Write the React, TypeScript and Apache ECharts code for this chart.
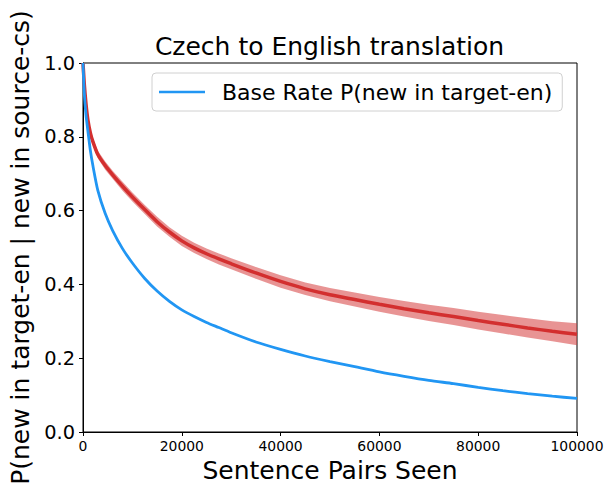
import React, { useEffect, useRef } from "react";
import * as echarts from "echarts";

const xs = [0, 250, 600, 1000, 1500, 2000, 3000, 4500, 6000, 8000, 10000, 12500, 15000, 17500, 20000, 22500, 25000, 27500, 30000, 35000, 40000, 45000, 50000, 55000, 60000, 65000, 70000, 75000, 80000, 85000, 90000, 95000, 100000];
const redValues = [1.0, 0.945, 0.89, 0.845, 0.81, 0.787, 0.752, 0.722, 0.697, 0.666, 0.637, 0.603, 0.57, 0.542, 0.518, 0.499, 0.483, 0.469, 0.456, 0.431, 0.408, 0.388, 0.372, 0.359, 0.346, 0.334, 0.323, 0.313, 0.302, 0.292, 0.282, 0.273, 0.265];
const redSpread = [0, 0.006, 0.008, 0.009, 0.009, 0.01, 0.01, 0.011, 0.011, 0.012, 0.012, 0.012, 0.013, 0.013, 0.014, 0.014, 0.014, 0.015, 0.015, 0.016, 0.017, 0.017, 0.018, 0.019, 0.02, 0.021, 0.022, 0.023, 0.024, 0.025, 0.026, 0.027, 0.03];
const blueValues = [1.0, 0.92, 0.86, 0.815, 0.762, 0.722, 0.655, 0.592, 0.546, 0.497, 0.458, 0.416, 0.382, 0.354, 0.331, 0.313, 0.297, 0.283, 0.269, 0.244, 0.224, 0.206, 0.191, 0.177, 0.163, 0.151, 0.14, 0.131, 0.121, 0.112, 0.104, 0.097, 0.091];
const xTicks = [0, 20000, 40000, 60000, 80000, 100000];
const yTicks = [0, 0.2, 0.4, 0.6, 0.8, 1.0];

const titleText = "Czech to English translation";
const xName = "Sentence Pairs Seen";
const yName = "P(new in target-en | new in source-cs)";
const legendName = "Base Rate P(new in target-en)";

const FONT = "DejaVu Sans";

export default function App() {
  const ref = useRef<HTMLDivElement>(null);
  useEffect(() => {
    if (!ref.current) return;
    const chart = echarts.init(ref.current, null, { renderer: "svg" });
    const redUpper = redValues.map((v, i) => v + redSpread[i]);
    const redLower = redValues.map((v, i) => v - redSpread[i]);
    chart.setOption({
      animation: false,
      textStyle: { fontFamily: FONT, color: "#000" },
      title: {
        text: titleText,
        left: 329.5,
        textAlign: "center",
        top: 34,
        textStyle: { fontFamily: FONT, fontSize: 25, fontWeight: "normal", color: "#000" },
        padding: 0,
      },
      legend: {
        left: 152,
        top: 73,
        data: [legendName],
        icon: "rect",
        itemWidth: 46,
        itemHeight: 2.5,
        padding: [7, 10, 7, 7],
        borderColor: "#d0d0d0",
        borderWidth: 1,
        borderRadius: 4,
        backgroundColor: "rgba(255,255,255,0.8)",
        textStyle: { fontFamily: FONT, fontSize: 22, color: "#000", lineHeight: 24, padding: [0, 0, 0, 12] },
      },
      grid: { left: 82, right: 36, top: 63, bottom: 64, show: true, borderColor: "#000", borderWidth: 1, backgroundColor: "transparent" },
      xAxis: {
        type: "value",
        min: 0,
        max: 100000,
        interval: 20000,
        name: xName,
        nameLocation: "middle",
        nameGap: 24,
        nameTextStyle: { fontFamily: FONT, fontSize: 25, color: "#000" },
        axisLine: { show: true, lineStyle: { color: "#000", width: 1 } },
        axisTick: { show: true, length: 4, lineStyle: { color: "#000" } },
        axisLabel: {
          fontFamily: FONT,
          fontSize: 13.9,
          color: "#000",
          margin: 7,
          showMaxLabel: true,
          formatter: (v: number) => (xTicks.includes(v) ? String(v) : ""),
        },
        splitLine: { show: false },
      },
      yAxis: {
        type: "value",
        min: 0,
        max: 1,
        interval: 0.2,
        name: yName,
        nameLocation: "middle",
        nameGap: 50,
        nameTextStyle: { fontFamily: FONT, fontSize: 25, color: "#000" },
        axisLine: { show: true, lineStyle: { color: "#000", width: 1 } },
        axisTick: { show: true, length: 4, lineStyle: { color: "#000" } },
        axisLabel: {
          fontFamily: FONT,
          fontSize: 19.4,
          color: "#000",
          margin: 8,
          formatter: (v: number) => {
            const t = yTicks.find((y) => Math.abs(y - v) < 1e-6);
            return t === undefined ? "" : t.toFixed(1);
          },
        },
        splitLine: { show: false },
      },
      series: [
        {
          type: "custom",
          name: "band",
          silent: true,
          data: [[0, 0]],
          z: 1,
          renderItem: (_params: any, api: any) => {
            const pts: number[][] = [];
            xs.forEach((x, i) => pts.push(api.coord([x, redUpper[i]])));
            for (let i = xs.length - 1; i >= 0; i--) pts.push(api.coord([xs[i], redLower[i]]));
            return { type: "polygon", shape: { points: pts }, style: { fill: "rgba(214,60,60,0.55)" } };
          },
        },
        {
          type: "line",
          name: "Red",
          data: xs.map((x, i) => [x, redValues[i]]),
          symbol: "none",
          smooth: 0.25,
          lineStyle: { color: "#d32f2f", width: 3.5 },
          itemStyle: { color: "#d32f2f" },
          z: 2,
        },
        {
          type: "line",
          name: legendName,
          data: xs.map((x, i) => [x, blueValues[i]]),
          symbol: "none",
          smooth: 0.25,
          lineStyle: { color: "#2196f3", width: 2.8 },
          itemStyle: { color: "#2196f3" },
          z: 3,
        },
      ],
    });
    return () => chart.dispose();
  }, []);
  return <div ref={ref} style={{ width: 613, height: 496, position: "absolute", left: 0, top: 0, background: "#fff" }} />;
}
